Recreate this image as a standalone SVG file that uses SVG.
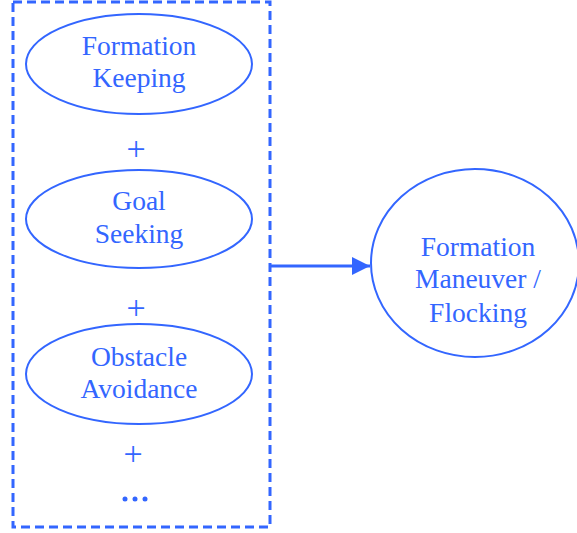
<svg xmlns="http://www.w3.org/2000/svg" width="577" height="533" viewBox="0 0 577 533">
<style>
.e{fill:none;stroke:#3366FF;stroke-width:2}
.t{font-family:"Liberation Serif","Times New Roman",serif;font-size:27.5px;fill:#3366FF;text-anchor:middle}
.p{font-family:"Liberation Serif","Times New Roman",serif;font-size:34px;fill:#3366FF;text-anchor:middle}
</style>
<defs>
<marker id="ah" markerWidth="18" markerHeight="18" refX="18" refY="9" orient="auto" markerUnits="userSpaceOnUse" viewBox="0 0 18 18">
<path d="M0,0 L18,9 L0,18 Z" fill="#3366FF"/>
</marker>
</defs>
<g id="group-box">
<rect x="13" y="2" width="257" height="525" fill="none" stroke="#3366FF" stroke-width="3" stroke-dasharray="9,5"/>
</g>
<g id="formation-keeping">
<ellipse class="e" cx="139" cy="64" rx="113" ry="50"/>
<text class="t" x="139" y="55">Formation</text>
<text class="t" x="139" y="87">Keeping</text>
</g>
<g id="plus1"><text class="p" x="136" y="160">+</text></g>
<g id="goal-seeking">
<ellipse class="e" cx="139" cy="219" rx="113" ry="49"/>
<text class="t" x="139" y="210">Goal</text>
<text class="t" x="139" y="243">Seeking</text>
</g>
<g id="plus2"><text class="p" x="136" y="319">+</text></g>
<g id="obstacle-avoidance">
<ellipse class="e" cx="139" cy="374" rx="113" ry="50"/>
<text class="t" x="139" y="366">Obstacle</text>
<text class="t" x="139" y="398">Avoidance</text>
</g>
<g id="plus3"><text class="p" x="133" y="465">+</text></g>
<g id="ellipsis">
<circle cx="125" cy="499" r="2.5" fill="#3366FF"/>
<circle cx="135" cy="499" r="2.5" fill="#3366FF"/>
<circle cx="145" cy="499" r="2.5" fill="#3366FF"/>
</g>
<g id="formation-maneuver">
<ellipse class="e" cx="475" cy="263" rx="104" ry="94"/>
<text class="t" x="478" y="256">Formation</text>
<text class="t" x="478" y="288">Maneuver /</text>
<text class="t" x="478" y="322">Flocking</text>
</g>
<g id="connectors">
<line x1="270" y1="266" x2="370" y2="266" stroke="#3366FF" stroke-width="3" marker-end="url(#ah)"/>
</g>
</svg>
